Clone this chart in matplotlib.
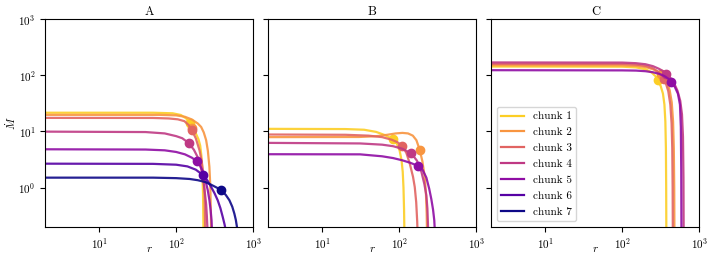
import matplotlib
matplotlib.use("Agg")
import matplotlib.pyplot as plt
from matplotlib.lines import Line2D
from matplotlib.ticker import NullLocator, LogLocator
import numpy as np

plt.rcParams.update({
    "font.family": "serif",
    "font.serif": ["cmr10"],
    "mathtext.fontset": "cm",
    "axes.formatter.use_mathtext": True,
    "axes.unicode_minus": False,
    "font.size": 8,
})

chunk_labels = ["chunk 1", "chunk 2", "chunk 3", "chunk 4", "chunk 5", "chunk 6", "chunk 7"]
panel_titles = ["A", "B", "C"]

# ---- Panel A (7 chunks) ----
A_r = [
    [2, 50, 90, 115, 135, 149, 165, 180, 195, 205, 213, 219, 223, 226, 227],
    [2, 60, 100, 130, 160, 191, 211, 228, 245, 258, 270, 278, 284, 286],
    [2, 50, 80, 105, 128, 145, 160, 180, 201, 215, 228, 234, 238, 240],
    [2, 40, 71, 100, 120, 145, 170, 194, 212, 225, 236, 245, 250, 254, 256],
    [2, 40, 71, 100, 130, 160, 185, 205, 221, 240, 257, 270, 280, 288, 291, 294],
    [2, 50, 100, 140, 180, 226, 255, 285, 315, 346, 375, 402, 425, 445, 455],
    [2, 50, 100, 150, 191, 240, 285, 335, 383, 440, 491, 535, 569, 595, 615, 630],
]
A_m = [
    [21.5, 21.5, 21.0, 19.6, 17.0, 14.2, 11.5, 9.2, 7.2, 5.6, 3.6, 1.8, 0.8, 0.2, 0.12],
    [19.7, 19.7, 19.3, 18.2, 16.3, 13.8, 12.0, 9.6, 6.97, 4.5, 2.33, 1.0, 0.2, 0.12],
    [17.4, 17.35, 17.0, 16.4, 15.2, 13.0, 10.5, 7.5, 4.6, 2.9, 1.55, 0.8, 0.2, 0.12],
    [9.9, 9.73, 9.2, 8.23, 7.55, 6.24, 4.7, 3.3, 2.1, 1.35, 0.8, 0.5, 0.32, 0.2, 0.12],
    [4.8, 4.75, 4.6, 4.3, 3.9, 3.4, 2.94, 2.45, 1.95, 1.35, 0.9, 0.6, 0.4, 0.26, 0.18, 0.1],
    [2.66, 2.64, 2.55, 2.38, 2.08, 1.64, 1.33, 1.02, 0.79, 0.594, 0.43, 0.3, 0.22, 0.16, 0.12],
    [1.5, 1.5, 1.47, 1.42, 1.35, 1.25, 1.12, 1.0, 0.9, 0.74, 0.594, 0.455, 0.344, 0.265, 0.2, 0.12],
]
A_dot_r = [149, 160, 160, 145, 185, 226, 383]
A_dot_m = [14.2, 11.5, 10.5, 6.24, 2.94, 1.64, 0.9]

# ---- Panel B (5 chunks) ----
B_r = [
    [2, 20, 35, 50, 65, 83, 93, 101, 107, 111, 113.5, 115.5, 117],
    [2, 30, 50, 70, 90, 110, 130, 150, 167, 185, 200, 214, 222, 227, 230],
    [2, 20, 40, 60, 80, 95, 110, 124, 137, 151, 159, 166, 171, 174],
    [2, 31, 60, 83, 110, 144, 170, 194, 212, 225, 232, 236, 238],
    [2, 31, 60, 83, 110, 140, 175, 200, 225, 245, 261, 275, 285, 291, 294],
]
B_m = [
    [11.1, 11.0, 10.7, 9.8, 8.6, 7.2, 6.0, 4.6, 3.1, 1.9, 1.0, 0.4, 0.12],
    [7.9, 7.95, 8.2, 8.7, 9.2, 9.4, 9.2, 8.4, 6.97, 4.62, 2.9, 1.55, 0.8, 0.35, 0.12],
    [8.8, 8.7, 8.4, 7.9, 7.1, 6.4, 5.45, 4.1, 2.67, 1.55, 1.02, 0.55, 0.25, 0.12],
    [6.24, 6.1, 5.8, 5.45, 4.9, 4.04, 3.0, 1.9, 1.15, 0.72, 0.42, 0.22, 0.12],
    [3.92, 3.9, 3.6, 3.35, 3.05, 2.75, 2.43, 2.1, 1.5, 0.95, 0.62, 0.4, 0.26, 0.15, 0.1],
]
B_dot_r = [83, 185, 110, 144, 175]
B_dot_m = [7.2, 4.62, 5.45, 4.04, 2.43]

# ---- Panel C (5 chunks) ----
C_r = [
    [2, 100, 150, 200, 240, 270, 290, 315, 337, 352, 362, 368, 371, 373],
    [2, 100, 150, 200, 250, 300, 340, 380, 412, 438, 456, 466, 472, 475],
    [2, 100, 150, 200, 250, 290, 330, 365, 395, 420, 436, 445, 450, 453],
    [2, 100, 150, 200, 250, 300, 340, 373, 420, 470, 520, 565, 595, 613, 622, 626],
    [2, 100, 150, 200, 250, 300, 350, 395, 433, 480, 527, 560, 575, 582, 586],
]
C_m = [
    [143, 142, 138, 128, 112, 96, 82, 64, 47, 30, 15, 5, 1.0, 0.12],
    [151, 150, 147, 140, 128, 112, 96, 75, 54, 33, 15, 5, 1.0, 0.12],
    [160, 159, 155, 147, 133, 116, 96, 74, 52, 30, 14, 5, 1.0, 0.12],
    [169, 168, 164, 157, 145, 130, 118, 107, 90, 72, 53, 35, 20, 8, 1.5, 0.12],
    [123, 122, 121, 118, 113, 106, 97, 87, 76, 62, 47, 30, 12, 2, 0.12],
]
C_dot_r = [290, 320, 345, 373, 433]
C_dot_m = [82, 104, 87, 107, 76]

colors = plt.cm.plasma(np.linspace(0.9, 0.0, 7))

fig, axes = plt.subplots(1, 3, figsize=(7.1, 2.58), dpi=100, sharey=True)
fig.subplots_adjust(left=0.0638, right=0.985, bottom=0.121, top=0.926, wspace=0.073)

panels = [
    (A_r, A_m, A_dot_r, A_dot_m),
    (B_r, B_m, B_dot_r, B_dot_m),
    (C_r, C_m, C_dot_r, C_dot_m),
]

for ax, title, (R, M, DR, DM) in zip(axes, panel_titles, panels):
    for i, (r, m) in enumerate(zip(R, M)):
        ax.plot(r, m, color=colors[i], lw=1.6, alpha=0.9)
        ax.plot([DR[i]], [DM[i]], "o", color=colors[i], ms=6)
    ax.set_xscale("log")
    ax.set_yscale("log")
    ax.set_xlim(2, 1000)
    ax.set_ylim(0.2, 1000)
    ax.xaxis.set_major_locator(LogLocator(base=10, numticks=10))
    ax.xaxis.set_minor_locator(NullLocator())
    ax.yaxis.set_minor_locator(NullLocator())
    ax.set_title(title, fontsize=9, pad=3)
    ax.set_xlabel("$r$", labelpad=-5)
    ax.tick_params(labelsize=8, length=3.5, width=0.8)

axes[0].set_ylabel(r"$\dot{M}$", labelpad=0.5)

handles = [Line2D([0], [0], color=colors[i], lw=1.6) for i in range(7)]
axes[2].legend(handles, chunk_labels, loc="lower left", fontsize=8,
               handlelength=2.0, labelspacing=0.55, borderpad=0.4, framealpha=0.8)

fig.savefig("out.png", dpi=100)
